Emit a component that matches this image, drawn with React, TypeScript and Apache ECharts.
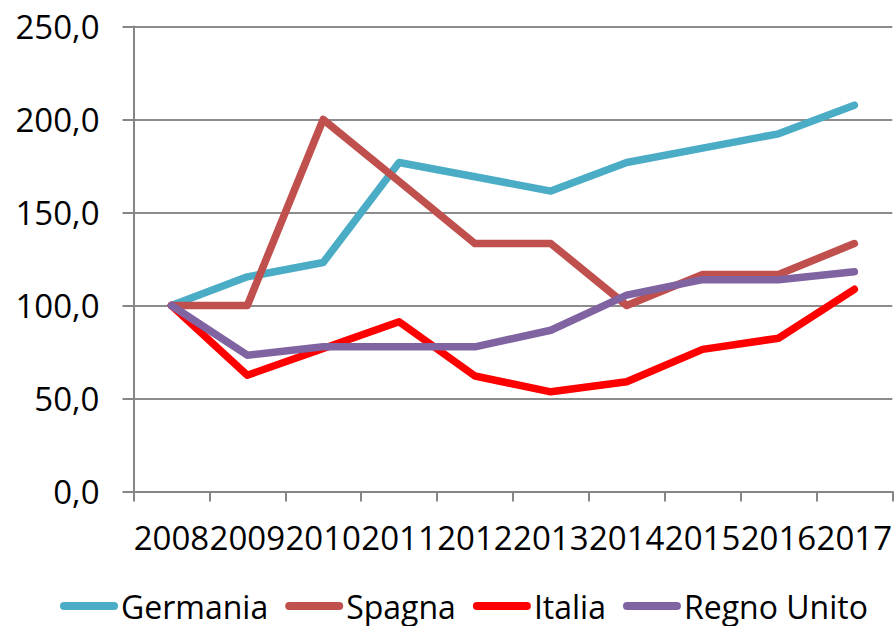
import React, { useEffect, useRef } from "react";
import * as echarts from "echarts";

const years = ["2008", "2009", "2010", "2011", "2012", "2013", "2014", "2015", "2016", "2017"];
const germania = [100, 115.4, 123.1, 176.9, 169.2, 161.5, 176.9, 184.6, 192.3, 207.7];
const spagna = [100, 100, 200, 166.7, 133.3, 133.3, 100, 116.7, 116.7, 133.3];
const italia = [100, 62.5, 76.9, 91.3, 62.1, 53.6, 59.0, 76.4, 82.4, 108.7];
const regnoUnito = [100, 73.3, 77.8, 77.8, 77.8, 86.7, 105.6, 113.9, 113.9, 118.2];

const FONT = "Open Sans";
const capsule = "path://M4,0 L54,0 A4,4 0 0 1 54,8 L4,8 A4,4 0 0 1 4,0 Z";

export default function App() {
  const ref = useRef<HTMLDivElement>(null);
  useEffect(() => {
    if (!ref.current) return;
    const chart = echarts.init(ref.current, undefined, { renderer: "svg" });
    const mk = (name: string, data: number[], color: string) => ({
      name,
      type: "line",
      data,
      symbol: "none",
      color,
      lineStyle: { width: 7.5, color, cap: "round", join: "round" },
    });
    chart.setOption({
      animation: false,
      backgroundColor: "#ffffff",
      grid: { left: 133.5, right: 1, top: 26.5, bottom: 134.5, containLabel: false },
      legend: {
        top: 584,
        left: 55,
        itemWidth: 58,
        itemHeight: 8,
        itemGap: 17,
        icon: capsule,
        textStyle: { fontFamily: FONT, fontSize: 32, lineHeight: 34, color: "#000", padding: [0, 0, 0, -2] },
        data: ["Germania", "Spagna", "Italia", "Regno Unito"],
      },
      xAxis: {
        type: "category",
        data: years,
        boundaryGap: true,
        axisLine: { lineStyle: { color: "#868686", width: 2 } },
        axisTick: { show: true, length: 10, lineStyle: { color: "#868686", width: 2 } },
        axisLabel: { interval: 0, margin: 29, fontFamily: FONT, fontSize: 33, color: "#000" },
      },
      yAxis: {
        type: "value",
        min: 0,
        max: 250,
        interval: 50,
        axisLine: { show: true, lineStyle: { color: "#868686", width: 2 } },
        axisTick: { show: true, inside: false, length: 11, lineStyle: { color: "#868686", width: 2 } },
        splitLine: { show: true, lineStyle: { color: "#8c8c8c", width: 2 } },
        axisLabel: {
          margin: 34,
          fontFamily: FONT,
          fontSize: 33,
          color: "#000",
          formatter: (v: number) => v.toFixed(1).replace(".", ","),
        },
      },
      series: [
        mk("Germania", germania, "#4BACC6"),
        mk("Spagna", spagna, "#C0504D"),
        mk("Italia", italia, "#FF0000"),
        mk("Regno Unito", regnoUnito, "#8064A2"),
      ],
    });
    return () => chart.dispose();
  }, []);
  return (
    <div
      ref={ref}
      style={{ position: "fixed", left: 0, top: 0, width: 895, height: 626, background: "#fff" }}
    />
  );
}
